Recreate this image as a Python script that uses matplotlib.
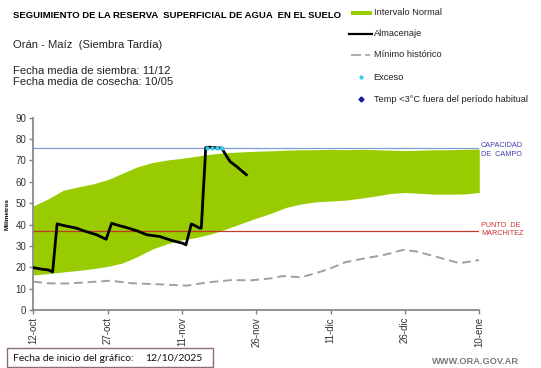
import matplotlib
matplotlib.use("Agg")
import matplotlib.pyplot as plt
from matplotlib.lines import Line2D
from matplotlib.patches import Rectangle

plt.rcParams['font.family'] = ['Liberation Sans', 'DejaVu Sans']

# ---------------- data ----------------
tick_days = [0, 15, 30, 45, 60, 75, 90]
tick_labels = ["12-oct", "27-oct", "11-nov", "26-nov", "11-dic", "26-dic", "10-ene"]

band_days = [0, 3, 6, 9, 12, 15, 18, 21, 24, 27, 30, 33, 36, 39, 42, 45, 48, 51,
             54, 57, 60, 63, 66, 69, 72, 75, 78, 81, 84, 87, 90]
band_high = [48.7, 52, 56, 57.6, 59, 61, 64, 67, 69, 70.2, 71, 72, 73, 73.6, 74, 74.3,
             74.5, 74.8, 75, 75, 75.2, 75, 75.2, 75, 74.8, 74.6, 74.8, 75, 75, 75.2, 75.3]
band_low = [16.4, 17, 17.8, 18.5, 19.3, 20.4, 22, 25, 28.5, 31, 32.8, 34, 35.7, 38,
            40.5, 43, 45.3, 48, 49.6, 50.6, 51, 51.4, 52.3, 53.3, 54.5, 55, 54.6, 54.2,
            54.2, 54.3, 55]

alm_days = [0, 1, 2, 3, 3.9, 4.8, 6, 8.7, 10, 12.8, 14.7, 15.8, 17, 18.8, 21, 22.9,
            25.5, 28, 30.2, 30.8, 31.9, 32.6, 33.6, 33.9, 34.8, 35.5, 37, 38, 39, 39.7,
            41, 43]
alm_values = [19.8, 19.4, 19.0, 18.8, 17.8, 40.3, 39.6, 38.3, 37.2, 35.2, 33.1, 40.6,
              39.7, 38.6, 37, 35.2, 34.4, 32.5, 31.2, 30.5, 40.3, 39.5, 38.3, 38.3, 76.0,
              76.2, 75.9, 75.8, 72, 69.5, 67.2, 63.3]

exceso_days = [35, 36, 37, 38]
exceso_values = [76.0, 75.8, 75.9, 75.8]

min_days = [0, 3, 7, 11, 15.5, 20, 25.5, 31, 35, 40, 44, 48, 50.4, 54, 57, 60, 63, 67,
            71, 74.6, 77.3, 81, 86, 90]
min_values = [13.3, 12.5, 12.4, 13, 13.7, 12.5, 12, 11.4, 12.9, 14, 13.9, 14.8, 15.9,
              15.3, 17.2, 19.5, 22.4, 24.2, 25.9, 28.1, 27.4, 25.1, 21.9, 23.4]

capacidad_campo = 75.8
punto_marchitez = 37.2

# ---------------- figure ----------------
W, H = 541, 368
fig = plt.figure(figsize=(W / 100, H / 100), dpi=100)
fig.patch.set_facecolor("white")

def fx(px):
    return px / W

def fy(py):
    return 1 - py / H

ax = fig.add_axes([fx(33.3), fy(310), fx(479.3) - fx(33.3), fy(117.7) - fy(310)])
ax.set_xlim(0, 90)
ax.set_ylim(0, 90)

ax.fill_between(band_days, band_low, band_high, color="#99cc00", lw=0, zorder=1)
ax.axhline(capacidad_campo, color="#7f9fd4", lw=0.9, zorder=2)
ax.axhline(punto_marchitez, color="#c0392b", lw=0.9, zorder=2)
ax.plot(min_days, min_values, color="#a0a0a0", lw=1.4, dashes=(4.5, 2.5), zorder=3)
ax.plot(alm_days, alm_values, color="black", lw=2.0, zorder=4)
ax.plot(exceso_days, exceso_values, color="#33ccee", lw=1.2, ls=":", marker="o",
        ms=2, zorder=5)

for s in ["top", "right"]:
    ax.spines[s].set_visible(False)
for s in ["left", "bottom"]:
    ax.spines[s].set_color("#808080")
    ax.spines[s].set_linewidth(1.2)

ax.set_yticks(range(0, 91, 10))
ax.set_xticks(tick_days)
ax.set_xticklabels(tick_labels, rotation=90)
ax.tick_params(axis="both", colors="#808080", length=3, width=1, labelsize=7,
               labelcolor="#333333", pad=2)
ax.set_ylabel("Milímetros", fontsize=4.6, fontweight="bold", labelpad=4)

# right-side labels
fig.text(fx(481), fy(150), "CAPACIDAD\nDE  CAMPO", color="#3c3caa", fontsize=5.2,
         va="center", ha="left", linespacing=1.25)
fig.text(fx(481), fy(229.5), "PUNTO  DE\nMARCHITEZ", color="#cc3333", fontsize=5.2,
         va="center", ha="left", linespacing=1.25)

# header texts
fig.text(fx(12.7), fy(15.7), "SEGUIMIENTO DE LA RESERVA  SUPERFICIAL DE AGUA  EN EL SUELO",
         fontsize=6.8, fontweight="bold", va="center", ha="left")
fig.text(fx(12.7), fy(44.5), "Orán - Maíz  (Siembra Tardía)", fontsize=8.1,
         va="center", ha="left", color="#222222")
fig.text(fx(12.7), fy(71), "Fecha media de siembra: 11/12", fontsize=8.1,
         va="center", ha="left", color="#222222")
fig.text(fx(12.7), fy(82), "Fecha media de cosecha: 10/05", fontsize=8.1,
         va="center", ha="left", color="#222222")

# legend (drawn manually)
fig.add_artist(Rectangle((fx(351), fy(14.5)), fx(372) - fx(351), fy(10.5) - fy(14.5),
                         transform=fig.transFigure, color="#99cc00", lw=0))
fig.add_artist(Line2D([fx(349), fx(372)], [fy(34), fy(34)], transform=fig.transFigure,
                      color="black", lw=1.6))
fig.add_artist(Line2D([fx(351), fx(370)], [fy(54.5), fy(54.5)], transform=fig.transFigure,
                      color="#a0a0a0", lw=1.2, dashes=(6, 2.5)))
fig.add_artist(Line2D([fx(360.7)], [fy(77)], transform=fig.transFigure, marker="o",
                      ms=2, color="#33ccee", lw=0))
fig.add_artist(Line2D([fx(360.7)], [fy(99)], transform=fig.transFigure, marker="D",
                      ms=2.5, color="#1a1a99", lw=0))
leg_items = [("Intervalo Normal", 12.7), ("Almacenaje", 34), ("Mínimo histórico", 54.5),
             ("Exceso", 77), ("Temp <3°C fuera del período habitual", 99)]
for txt, yy in leg_items:
    fig.text(fx(373.5), fy(yy), txt, fontsize=6.65, va="center", ha="left",
             color="#222222")

# footer
fig.add_artist(Rectangle((fx(6.7), fy(367.3)), fx(212.7) - fx(6.7), fy(348.3) - fy(367.3),
                         transform=fig.transFigure, fill=False, ec="#8c6e6e", lw=1))
fig.text(fx(12.7), fy(358.3), "Fecha de inicio del gráfico:", fontsize=7.5, va="center",
         ha="left", family=["Lato", "DejaVu Sans"], color="#111111")
fig.text(fx(145), fy(358.3), "12/10/2025", fontsize=7.5, va="center", ha="left",
         family=["Lato", "DejaVu Sans"], color="#111111")
fig.text(fx(519.3), fy(361), "WWW.ORA.GOV.AR", fontsize=6.7, fontweight="bold",
         va="center", ha="right", color="#7a7a7a")

fig.savefig("out.png", dpi=100)
